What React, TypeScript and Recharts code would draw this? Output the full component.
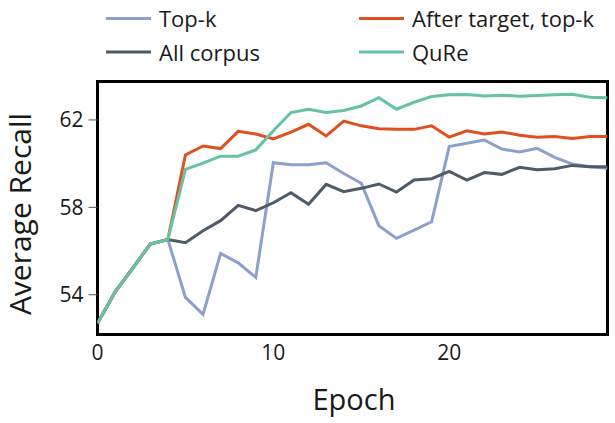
import React from 'react';
import { LineChart, Line, XAxis, YAxis, ReferenceArea, Legend, Label } from 'recharts';

const epochs = [0, 1, 2, 3, 4, 5, 6, 7, 8, 9, 10, 11, 12, 13, 14, 15, 16, 17, 18, 19, 20, 21, 22, 23, 24, 25, 26, 27, 28, 29];
const topK = [52.69, 54.13, 55.21, 56.32, 56.53, 53.88, 53.1, 55.89, 55.46, 54.79, 60.04, 59.95, 59.95, 60.04, 59.55, 59.1, 57.16, 56.58, 56.96, 57.34, 60.78, 60.93, 61.08, 60.67, 60.53, 60.7, 60.29, 59.98, 59.86, 59.79];
const afterTarget = [52.69, 54.13, 55.21, 56.32, 56.53, 60.4, 60.81, 60.69, 61.48, 61.36, 61.13, 61.44, 61.8, 61.27, 61.95, 61.73, 61.6, 61.57, 61.57, 61.73, 61.21, 61.5, 61.36, 61.45, 61.3, 61.21, 61.24, 61.15, 61.24, 61.24];
const allCorpus = [52.69, 54.13, 55.21, 56.32, 56.53, 56.38, 56.93, 57.39, 58.09, 57.85, 58.21, 58.67, 58.14, 59.05, 58.72, 58.87, 59.07, 58.7, 59.25, 59.31, 59.65, 59.25, 59.59, 59.51, 59.83, 59.72, 59.77, 59.92, 59.86, 59.86];
const qure = [52.69, 54.13, 55.21, 56.32, 56.53, 59.74, 60.02, 60.34, 60.34, 60.63, 61.51, 62.34, 62.49, 62.34, 62.43, 62.64, 63.02, 62.49, 62.81, 63.07, 63.15, 63.16, 63.1, 63.13, 63.09, 63.12, 63.15, 63.18, 63.04, 63.02];
const xTicks = [0, 10, 20];
const yTicks = [54, 58, 62];
const seriesNames = ['Top-k', 'After target, top-k', 'All corpus', 'QuRe'];

const data = epochs.map((e, i) => ({
  epoch: e,
  topK: topK[i],
  afterTarget: afterTarget[i],
  allCorpus: allCorpus[i],
  qure: qure[i],
}));

const X_DOMAIN: [number, number] = [0, 29];
const Y_DOMAIN: [number, number] = [52.18, 63.76];
const FONT = '"Open Sans", sans-serif';
const TEXT = '#1a1a1a';

const legendSlots = [
  { x: 106, y: 18.5 },
  { x: 359, y: 18.5 },
  { x: 106, y: 52 },
  { x: 359, y: 52 },
];

function LegendContent(props: any) {
  const payload: any[] = props.payload || [];
  return (
    <svg width={615} height={70} style={{ display: 'block' }}>
      {seriesNames.map((name, i) => {
        const p = payload.find((q) => q.value === name);
        const slot = legendSlots[i];
        const color = p ? p.color : '#000';
        return (
          <g key={name}>
            <line x1={slot.x} x2={slot.x + 45} y1={slot.y} y2={slot.y} stroke={color} strokeWidth={3} />
            <text x={slot.x + 53} y={slot.y + 8.7} fontSize={22} fill={TEXT} fontFamily={FONT}>
              {name}
            </text>
          </g>
        );
      })}
    </svg>
  );
}

export default function App() {
  return (
    <div style={{ position: 'absolute', left: 0, top: 0, width: 615, height: 423, background: '#fff' }}>
      <LineChart
        width={615}
        height={423}
        data={data}
        margin={{ top: 81.5, right: 7.5, left: 37.5, bottom: 48.5 }}
        style={{ fontFamily: FONT }}
      >
        <XAxis
          dataKey="epoch"
          type="number"
          domain={X_DOMAIN}
          ticks={xTicks}
          allowDataOverflow
          axisLine={false}
          tickLine={false}
          tickSize={0}
          tickMargin={10.5}
          height={40}
          tick={{ fontSize: 21, fill: TEXT, fontFamily: FONT }}
          label={
            <Label
              content={(p: any) => {
                const vb = p.viewBox || { x: 97.5, width: 510 };
                return (
                  <text x={vb.x + vb.width / 2 + 1.5} y={410} textAnchor="middle" fontSize={29} fill={TEXT} fontFamily={FONT}>
                    Epoch
                  </text>
                );
              }}
            />
          }
        />
        <YAxis
          type="number"
          domain={Y_DOMAIN}
          ticks={yTicks}
          allowDataOverflow
          axisLine={false}
          tickLine={{ stroke: '#555', strokeWidth: 1 }}
          tickSize={9}
          tickMargin={5}
          width={60}
          tick={{ fontSize: 21, fill: TEXT, fontFamily: FONT }}
          label={
            <Label
              content={() => (
                <text
                  transform="translate(31,214) rotate(-90)"
                  textAnchor="middle"
                  fontSize={30}
                  fill={TEXT}
                  fontFamily={FONT}
                >
                  Average Recall
                </text>
              )}
            />
          }
        />
        <ReferenceArea
          x1={X_DOMAIN[0]}
          x2={X_DOMAIN[1]}
          y1={Y_DOMAIN[0]}
          y2={Y_DOMAIN[1]}
          fill="none"
          stroke="#000"
          strokeWidth={3}
          ifOverflow="visible"
        />
        <Legend
          layout="vertical"
          align="center"
          verticalAlign="middle"
          wrapperStyle={{ position: 'absolute', left: 0, top: 0, width: 615, height: 70 }}
          content={LegendContent}
        />
        <Line name="Top-k" dataKey="topK" stroke="#8da0cb" strokeWidth={3} dot={false} isAnimationActive={false} type="linear" />
        <Line name="All corpus" dataKey="allCorpus" stroke="#4e5b69" strokeWidth={3} dot={false} isAnimationActive={false} type="linear" />
        <Line name="After target, top-k" dataKey="afterTarget" stroke="#e0501f" strokeWidth={3} dot={false} isAnimationActive={false} type="linear" />
        <Line name="QuRe" dataKey="qure" stroke="#66c2a5" strokeWidth={3} dot={false} isAnimationActive={false} type="linear" />
      </LineChart>
    </div>
  );
}
